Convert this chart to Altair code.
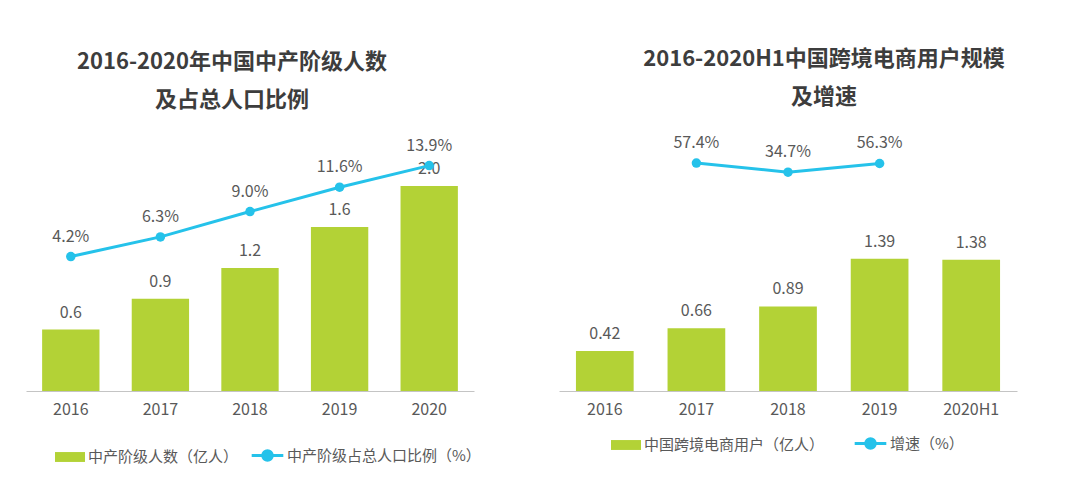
import altair as alt
import pandas as pd

left_years = ["2016", "2017", "2018", "2019", "2020"]
left_people = [0.6, 0.9, 1.2, 1.6, 2.0]
left_ratio = [4.2, 6.3, 9.0, 11.6, 13.9]

right_years = ["2016", "2017", "2018", "2019", "2020H1"]
right_users = [0.42, 0.66, 0.89, 1.39, 1.38]
right_growth = [None, 57.4, 34.7, 56.3, None]

left_title = ["2016-2020年中国中产阶级人数", "及占总人口比例"]
right_title = ["2016-2020H1中国跨境电商用户规模", "及增速"]
left_bar_name = "中产阶级人数（亿人）"
left_line_name = "中产阶级占总人口比例（%）"
right_bar_name = "中国跨境电商用户（亿人）"
right_line_name = "增速（%）"

GREEN = "#b3d236"
CYAN = "#25c2ea"
GRAY = "#595959"
FONT = "Noto Sans CJK SC"

RECT_PATH = "M-1,-0.33H1V0.33H-1Z"
LINE_PATH = "M-1,0H1M-0.3,0A0.3,0.3,0,1,1,0.3,0A0.3,0.3,0,1,1,-0.3,0Z"


def panel(years, vals, pcts, bar_name, line_name, title, width, bar_dom,
          line_dom, fmt, title_dx, leg_fill_x, leg_line_x, leg_y, pad_inner):
    df = pd.DataFrame({"year": years, "val": vals, "pct": pcts,
                       "bar": [bar_name] * len(years),
                       "line": [line_name] * len(years)})
    x = alt.X("year:N", sort=years,
              scale=alt.Scale(paddingInner=pad_inner, paddingOuter=pad_inner / 2),
              axis=alt.Axis(title=None, labelAngle=0, ticks=False,
                            labelFontSize=16, labelColor=GRAY, labelFont=FONT,
                            labelPadding=10, domainColor="#c4c4c4",
                            domainWidth=1))
    yb = alt.Y("val:Q", scale=alt.Scale(domain=bar_dom), axis=None)
    yl = alt.Y("pct:Q", scale=alt.Scale(domain=line_dom), axis=None)
    base = alt.Chart(df)
    bars = base.mark_bar().encode(
        x=x, y=yb,
        fill=alt.Fill("bar:N", scale=alt.Scale(range=[GREEN]),
                      legend=alt.Legend(orient="none", legendX=leg_fill_x,
                                        legendY=leg_y, title=None,
                                        symbolType=RECT_PATH, symbolSize=900,
                                        symbolStrokeWidth=0, labelFontSize=15,
                                        labelColor=GRAY, labelFont=FONT,
                                        labelOffset=3, padding=0,
                                        labelLimit=500)))
    bar_text = base.mark_text(baseline="bottom", dy=-9, fontSize=16,
                              color=GRAY, font=FONT).encode(
        x=x, y=yb, text=alt.Text("val:Q", format=fmt))
    lbase = base.transform_filter("isValid(datum.pct)").transform_calculate(
        lab="format(datum.pct, '.1f') + '%'")
    line = lbase.mark_line(strokeWidth=3).encode(
        x=x, y=yl,
        stroke=alt.Stroke("line:N", scale=alt.Scale(range=[CYAN]),
                          legend=alt.Legend(orient="none", legendX=leg_line_x,
                                            legendY=leg_y - 4, title=None,
                                            symbolType=LINE_PATH,
                                            symbolSize=1000,
                                            symbolFillColor=CYAN,
                                            symbolStrokeWidth=3,
                                            labelFontSize=15, labelColor=GRAY,
                                            labelFont=FONT, labelOffset=2,
                                            padding=0, labelLimit=500)))
    pts = lbase.mark_point(filled=True, size=90, color=CYAN, opacity=1).encode(
        x=x, y=yl)
    pct_text = lbase.mark_text(baseline="bottom", dy=-12, fontSize=16,
                               color=GRAY, font=FONT).encode(
        x=x, y=yl, text="lab:N")
    return alt.layer(bars, bar_text, line, pts, pct_text).resolve_scale(
        y="independent").properties(
        width=width, height=251,
        title=alt.TitleParams(text=title, fontSize=22, font=FONT,
                              fontWeight="bold", color="#3d3d3d",
                              lineHeight=38, offset=26, dx=title_dx,
                              anchor="middle"))


left = panel(left_years, left_people, left_ratio, left_bar_name,
             left_line_name, left_title, 448, [0, 2.45], [-10.13, 16.63],
             ".1f", -18, 29, 224, 302, 0.36)
right = panel(right_years, right_users, right_growth, right_bar_name,
              right_line_name, right_title, 458, [0, 2.64], [-512, 115],
              ".2f", 36, 52, 294, 290, 0.37)

chart = alt.hconcat(left, right, spacing=78).resolve_scale(
    fill="independent", stroke="independent").properties(
    padding={"left": 18, "top": 40, "right": 5, "bottom": 0}
).configure_view(stroke=None)

chart.save("out.html", embed_options={"renderer": "svg", "actions": False})
